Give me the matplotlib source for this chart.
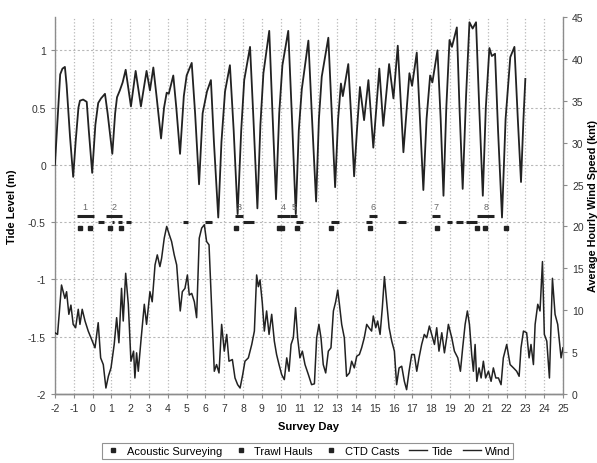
import matplotlib.pyplot as plt
from matplotlib.lines import Line2D

plt.rcParams['font.family'] = ['Liberation Sans', 'DejaVu Sans']
plt.rcParams['axes.unicode_minus'] = False

# tide level (m)
tide_day = [-2.0, -1.82, -1.72, -1.6, -1.47, -1.38, -1.2, -1.03, -0.9, -0.75, -0.67, -0.5,
            -0.31, -0.2, -0.02, 0.15, 0.3, 0.45, 0.66, 0.8, 1.05, 1.2, 1.3, 1.45, 1.6, 1.76,
            2.04, 2.29, 2.57, 2.87, 3.05, 3.23, 3.4, 3.64, 3.8, 3.94, 4.05, 4.29, 4.45, 4.65,
            4.85, 5.0, 5.27, 5.45, 5.66, 5.85, 6.08, 6.29, 6.45, 6.68, 6.85, 7.04, 7.3, 7.5,
            7.71, 7.9, 8.06, 8.37, 8.55, 8.76, 8.92, 9.08, 9.39, 9.55, 9.75, 9.92, 10.09, 10.4,
            10.6, 10.8, 10.96, 11.12, 11.47, 11.65, 11.88, 12.03, 12.18, 12.53, 12.7, 12.89,
            13.05, 13.2, 13.3, 13.59, 13.75, 13.9, 14.05, 14.21, 14.43, 14.66, 14.92, 15.24,
            15.45, 15.76, 15.99, 16.22, 16.52, 16.84, 16.98, 17.23, 17.4, 17.58, 17.75, 17.94,
            18.06, 18.33, 18.5, 18.65, 18.8, 18.97, 19.1, 19.36, 19.5, 19.67, 19.85, 20.03,
            20.2, 20.38, 20.55, 20.74, 20.9, 21.09, 21.22, 21.39, 21.55, 21.76, 21.95, 22.2,
            22.42, 22.6, 22.77, 22.9, 23.0]
tide_lvl = [0.0, 0.5, 0.79, 0.84, 0.855, 0.7, 0.25, -0.105, 0.2, 0.5, 0.56, 0.57,
            0.55, 0.3, -0.07, 0.35, 0.54, 0.58, 0.62, 0.45, 0.096, 0.45, 0.59, 0.65, 0.72, 0.83,
            0.51, 0.82, 0.51, 0.82, 0.65, 0.85, 0.6, 0.23, 0.5, 0.63, 0.62, 0.78, 0.5, 0.096,
            0.6, 0.78, 0.89, 0.45, -0.17, 0.45, 0.64, 0.74, 0.2, -0.46, 0.2, 0.64, 0.87, 0.3,
            -0.43, 0.3, 0.74, 1.03, 0.4, -0.38, 0.35, 0.8, 1.17, 0.5, -0.3, 0.45, 0.87, 1.17,
            0.4, -0.43, 0.3, 0.66, 1.085, 0.45, -0.32, 0.4, 0.77, 1.11, 0.5, -0.195,
            0.4, 0.71, 0.6, 0.88, 0.4, -0.1, 0.3, 0.68, 0.39, 0.74, 0.15, 0.84,
            0.34, 0.88, 0.58, 1.04, 0.11, 0.8, 0.69, 0.98, 0.4, -0.22, 0.4, 0.78,
            0.72, 1.0, 0.4, -0.27, 0.5, 1.09, 1.03, 1.2, 0.5, -0.21, 0.6, 1.245,
            1.19, 1.245, 0.5, -0.27, 0.5, 1.02, 0.95, 0.97, 0.3, -0.46, 0.4, 0.94,
            1.03, 0.4, -0.15, 0.4, 0.75]

# average hourly wind speed (knt)
wind_day = [-2.0, -1.86, -1.65, -1.47, -1.38, -1.26, -1.15, -1.03, -0.9, -0.76, -0.67, -0.55,
            -0.4, -0.23, -0.05, 0.13, 0.3, 0.43, 0.57, 0.71, 0.84, 0.98, 1.15, 1.28, 1.4, 1.54,
            1.63, 1.76, 1.9, 2.04, 2.18, 2.25, 2.34, 2.43, 2.57, 2.75, 2.87, 3.05, 3.17, 3.32,
            3.44, 3.58, 3.67, 3.81, 3.94, 4.08, 4.2, 4.34, 4.47, 4.59, 4.66, 4.77, 4.91, 5.04,
            5.14, 5.27, 5.41, 5.53, 5.67, 5.8, 5.94, 6.06, 6.19, 6.33, 6.47, 6.59, 6.72, 6.86,
            7.0, 7.13, 7.25, 7.43, 7.57, 7.71, 7.84, 7.98, 8.1, 8.28, 8.46, 8.6, 8.72, 8.81,
            8.9, 9.02, 9.13, 9.25, 9.38, 9.52, 9.66, 9.78, 9.91, 10.05, 10.19, 10.32, 10.44,
            10.55, 10.67, 10.79, 10.9, 11.02, 11.15, 11.29, 11.47, 11.64, 11.79, 11.91, 12.03,
            12.14, 12.26, 12.39, 12.53, 12.67, 12.8, 12.92, 13.03, 13.12, 13.24, 13.38, 13.5,
            13.65, 13.77, 13.91, 14.04, 14.18, 14.3, 14.44, 14.57, 14.69, 14.83, 14.92, 15.05,
            15.15, 15.28, 15.4, 15.51, 15.63, 15.76, 15.9, 16.04, 16.16, 16.29, 16.43, 16.57,
            16.69, 16.82, 16.96, 17.1, 17.23, 17.35, 17.49, 17.63, 17.76, 17.9, 18.02, 18.17,
            18.29, 18.41, 18.56, 18.7, 18.82, 18.91, 19.09, 19.23, 19.41, 19.55, 19.67, 19.8,
            19.92, 20.03, 20.15, 20.24, 20.33, 20.42, 20.54, 20.65, 20.77, 20.89, 21.04, 21.18,
            21.3, 21.43, 21.57, 21.71, 21.83, 22.01, 22.19, 22.37, 22.54, 22.67, 22.77, 22.9,
            23.07, 23.2, 23.3, 23.43, 23.52, 23.66, 23.78, 23.91, 24.01, 24.14, 24.28, 24.44,
            24.58, 24.72, 24.9, 25.0]
wind_spd = [7.3, 7.1, 13.0, 11.4, 12.2, 9.5, 10.6, 8.3, 7.9, 10.1, 8.3, 10.1,
            8.7, 7.5, 6.5, 5.5, 8.5, 4.3, 3.5, 0.7, 2.1, 3.1, 5.9, 9.1, 6.1, 12.6,
            8.7, 14.4, 10.7, 3.9, 5.1, 1.9, 4.9, 2.7, 6.3, 10.7, 8.3, 12.2, 11.0, 15.4,
            16.6, 15.2, 16.2, 18.6, 20.0, 19.0, 18.2, 16.6, 15.4, 11.8, 9.9, 12.2, 12.6, 14.2,
            11.8, 12.0, 11.0, 9.1, 18.6, 19.8, 20.2, 18.2, 17.8, 10.3, 2.7, 3.5, 2.5, 8.3,
            5.1, 7.1, 3.9, 4.1, 1.9, 1.1, 0.7, 2.3, 3.9, 4.3, 5.9, 7.5, 14.2, 12.8,
            13.6, 10.9, 7.5, 9.9, 7.1, 9.5, 6.3, 4.7, 3.5, 2.3, 1.7, 4.3, 2.7,
            5.9, 6.7, 10.3, 6.7, 4.3, 5.1, 3.5, 2.3, 1.1, 1.2, 6.7, 8.3,
            6.7, 3.5, 2.5, 5.1, 5.5, 9.9, 11.0, 12.4, 10.7, 8.3, 6.7, 2.1,
            2.5, 3.9, 3.1, 4.5, 4.7, 5.5, 6.7, 8.3, 7.9, 7.5, 9.3, 7.9,
            8.7, 7.1, 10.3, 14.0, 11.0, 7.9, 6.3, 5.1, 1.1, 3.1, 3.3, 1.5,
            0.5, 2.7, 4.7, 4.7, 2.7, 4.3, 5.9, 7.1, 6.7, 8.1, 7.1, 5.9,
            7.9, 5.1, 7.3, 4.9, 6.7, 8.3, 6.7, 5.1, 4.3, 2.7, 5.5, 8.3,
            9.9, 8.3, 4.7, 2.7, 5.9, 1.5, 3.1, 1.9, 3.9, 1.9, 2.7, 1.5,
            3.1, 1.9, 1.9, 1.1, 4.3, 5.9, 3.5, 3.1, 2.7, 2.1, 5.5, 7.5,
            7.3, 4.3, 5.9, 3.5, 8.3, 10.7, 9.9, 15.8, 7.1, 6.3, 1.9, 13.8,
            9.5, 8.3, 4.3, 5.5]

# survey activities (start day, end day)
acoustic_spans = [(-0.85, 0.07), (0.69, 1.58), (7.57, 7.98), (9.82, 10.5), (10.5, 10.88),
                  (14.71, 15.1), (18.06, 18.47), (20.45, 21.34)]
acoustic_labels = ['1', '2', '3', '4', '5', '6', '7', '8']
trawl_spans = [(0.3, 0.6), (1.05, 1.15), (1.37, 1.55), (1.78, 2.04), (4.79, 5.07), (5.97, 6.36),
               (8.01, 8.6), (10.81, 11.17), (12.67, 13.1), (14.52, 14.84), (16.25, 16.66),
               (18.82, 19.12), (19.3, 19.67), (19.85, 20.45)]
ctd_days = [-0.67, -0.14, 0.92, 1.51, 7.6, 9.9, 10.06, 10.85, 12.67, 14.75, 18.29, 20.45,
            20.86, 21.96]

fig = plt.figure(figsize=(5.97, 4.64), dpi=100)
ax = fig.add_axes([0.092, 0.149, 0.851, 0.812])
ax2 = ax.twinx()

line_col = '#222222'
grid_col = '#b8b8b8'
spine_col = '#8c8c8c'

ax.plot(tide_day, tide_lvl, color=line_col, lw=1.3, zorder=3)
ax2.plot(wind_day, wind_spd, color=line_col, lw=1.1, zorder=3)

for (s, e), lab in zip(acoustic_spans, acoustic_labels):
    ax.plot([s, e], [-0.45, -0.45], color=line_col, lw=2.2, solid_capstyle='butt', zorder=4)
    ax.text((s + e) / 2, -0.4, lab, ha='center', va='bottom', fontsize=6.5, color='#666666')
for s, e in trawl_spans:
    ax.plot([s, e], [-0.5, -0.5], color=line_col, lw=2.2, solid_capstyle='butt', zorder=4)
ax.plot(ctd_days, [-0.55] * len(ctd_days), 's', color=line_col, ms=2.8, zorder=4)

ax.set_xlim(-2, 25)
ax.set_ylim(-2, 1.29)
ax2.set_ylim(0, 45)
ax.set_xticks(range(-2, 26))
ax.set_yticks([-2, -1.5, -1, -0.5, 0, 0.5, 1])
ax.set_yticklabels(['-2', '-1.5', '-1', '-0.5', '0', '0.5', '1'])
ax2.set_yticks(range(0, 50, 5))

ax.grid(axis='x', ls=':', color=grid_col, lw=0.9)
ax.grid(axis='y', ls='--', color=grid_col, lw=0.8, dashes=(2, 2))
ax.set_axisbelow(True)

for a in (ax, ax2):
    a.spines['top'].set_visible(False)
    for sp in a.spines.values():
        sp.set_color(spine_col)
        sp.set_linewidth(1.0)
    a.tick_params(colors=spine_col, labelcolor='#333333', labelsize=7.5, length=3, width=0.8)
ax.spines['right'].set_visible(False)
ax2.spines['left'].set_visible(False)

ax.set_xlabel('Survey Day', fontsize=8, fontweight='bold', labelpad=6)
ax.set_ylabel('Tide Level (m)', fontsize=8, fontweight='bold', labelpad=8)
ax2.set_ylabel('Average Hourly Wind Speed (knt)', fontsize=7.8, fontweight='bold', labelpad=3)

handles = [
    Line2D([], [], marker='s', ms=2.5, ls='none', color=line_col),
    Line2D([], [], marker='s', ms=2.5, ls='none', color=line_col),
    Line2D([], [], marker='s', ms=2.5, ls='none', color=line_col),
    Line2D([], [], color=line_col, lw=1.0),
    Line2D([], [], color=line_col, lw=1.0),
]
names = ['Acoustic Surveying', 'Trawl Hauls', 'CTD Casts', 'Tide', 'Wind']
leg = fig.legend(handles, names, loc='center', bbox_to_anchor=(0.515, 0.026), ncol=5,
                 fontsize=8, frameon=True, fancybox=False, handlelength=1.6,
                 handletextpad=0.4, columnspacing=0.9, borderpad=0.25)
leg.get_frame().set_edgecolor('#777777')
leg.get_frame().set_linewidth(0.8)

fig.savefig('out.png', dpi=100)
